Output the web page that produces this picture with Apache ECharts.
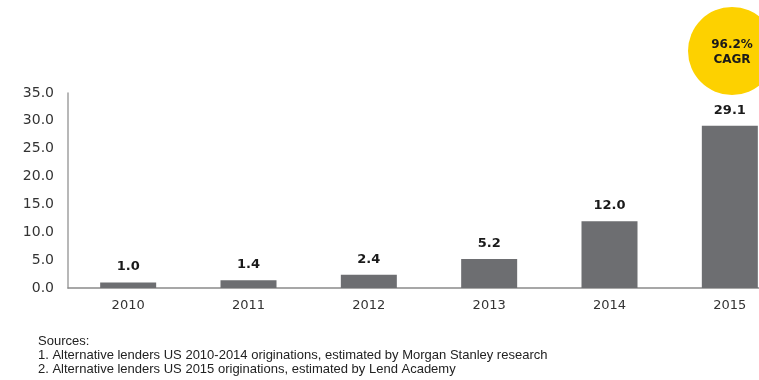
<!DOCTYPE html>
<html><head><meta charset="utf-8">
<script src="https://cdn.jsdelivr.net/npm/echarts@6/dist/echarts.min.js"></script>
<style>html,body{margin:0;padding:0;background:#fff}#c{width:759px;height:380px}</style>
</head><body><div id="c"></div>
<script>
const categories = ['2010','2011','2012','2013','2014','2015'];
const values = [1.0, 1.4, 2.4, 5.2, 12.0, 29.1];
const yTicks = ['0.0','5.0','10.0','15.0','20.0','25.0','30.0','35.0'];
const badgeLines = ['96.2%','CAGR'];
const sourceLines = ['Sources:','1. Alternative lenders US 2010-2014 originations, estimated by Morgan Stanley research','2. Alternative lenders US 2015 originations, estimated by Lend Academy'];

const chart = echarts.init(document.getElementById('c'));
chart.setOption({
  animation:false,
  grid:{left:68, width:722, top:93, height:195, outerBoundsMode:'none', containLabel:false},
  xAxis:{type:'category', data:categories,
    axisLine:{lineStyle:{color:'#8a8a8a', width:1.5}},
    axisTick:{show:false},
    axisLabel:{color:'#333', fontFamily:'DejaVu Sans', fontSize:13, margin:11}},
  yAxis:{type:'value', min:0, max:35, interval:5,
    axisLine:{show:true, lineStyle:{color:'#a0a0a0', width:1.5}},
    axisTick:{show:false}, splitLine:{show:false},
    axisLabel:{color:'#333', fontFamily:'DejaVu Sans', fontSize:14, margin:14,
      formatter:v=>yTicks[Math.round(v/5)]}},
  series:[{type:'bar', data:values, barWidth:56,
    itemStyle:{color:'#6d6e71'},
    label:{show:true, position:'top', distance:9, color:'#1a1a1a', fontWeight:'bold',
      fontFamily:'DejaVu Sans', fontSize:13, formatter:p=>p.value.toFixed(1)}}],
  graphic:[
    {type:'circle', shape:{cx:732, cy:51, r:44}, style:{fill:'#fdd100'}},
    {type:'text', x:732, y:45, style:{text:badgeLines[0], fill:'#1a1a1a', font:'bold 12px "DejaVu Sans"', align:'center', verticalAlign:'middle'}},
    {type:'text', x:732, y:60, style:{text:badgeLines[1], fill:'#1a1a1a', font:'bold 12px "DejaVu Sans"', align:'center', verticalAlign:'middle'}},
    {type:'text', x:38, y:341, style:{text:sourceLines[0], fill:'#222', font:'13px "Liberation Sans"', verticalAlign:'middle'}},
    {type:'text', x:38, y:355, style:{text:sourceLines[1], fill:'#222', font:'13px "Liberation Sans"', verticalAlign:'middle'}},
    {type:'text', x:38, y:369, style:{text:sourceLines[2], fill:'#222', font:'13px "Liberation Sans"', verticalAlign:'middle'}}
  ]
});
</script></body></html>
